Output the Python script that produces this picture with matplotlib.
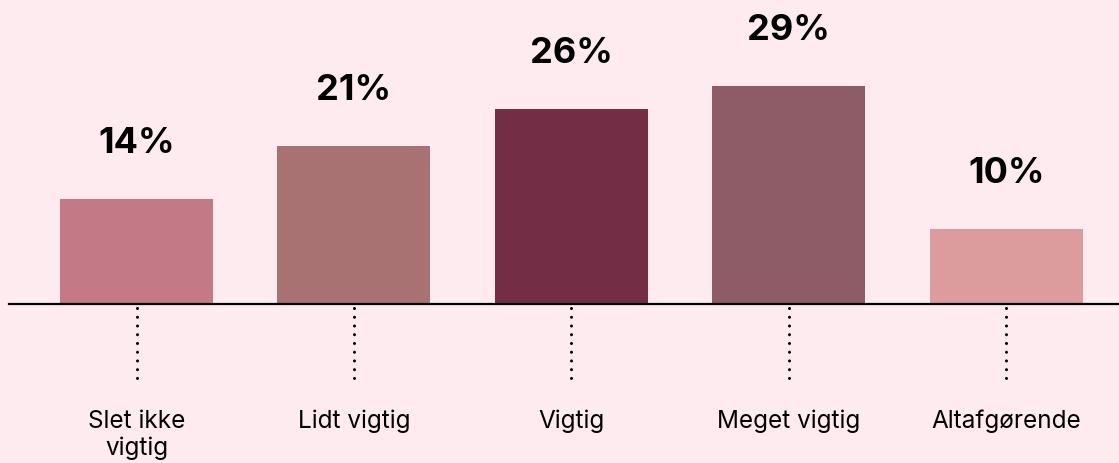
import numpy as np
import matplotlib
matplotlib.use("Agg")
import matplotlib.pyplot as plt

categories = ["Slet ikke\nvigtig", "Lidt vigtig", "Vigtig", "Meget vigtig", "Altafgørende"]
values = [14, 21, 26, 29, 10]
colors = ["#c47a86", "#a87272", "#732d45", "#8d5c66", "#dc9b9c"]

bg = "#fdebf0"
plt.rcParams['font.family'] = ['Inter', 'DejaVu Sans']

fig = plt.figure(figsize=(11.19, 4.63), dpi=100, facecolor=bg)
ax = fig.add_axes([0, 0, 1, 1], facecolor=bg)

x = np.arange(len(values))
ax.bar(x, values, width=0.704, color=colors, zorder=2)

# value labels above bars
for xi, v in zip(x, values):
    ax.annotate(f"{v}%", (xi, v), xytext=(0, 40), textcoords="offset points",
                ha="center", va="center", fontsize=26, fontweight="bold", color="black")

# baseline
ax.axhline(0, xmin=0.008, xmax=1, color="black", lw=1.6, zorder=3)

# dotted connectors and category labels
for xi, cat in zip(x, categories):
    ax.plot([xi, xi], [-0.6, -10.5], color="black", lw=2.2,
            linestyle=(0, (0.01, 2.85)), dash_capstyle="round")
    ax.text(xi, -14.1, cat, ha="center", va="top", fontsize=17.5,
            linespacing=1.22, color="black")

ax.set_xlim(-0.628, 4.519)
ax.set_ylim(-21.2, 40.53)
ax.axis("off")

fig.savefig("out.png", dpi=100, facecolor=bg)
